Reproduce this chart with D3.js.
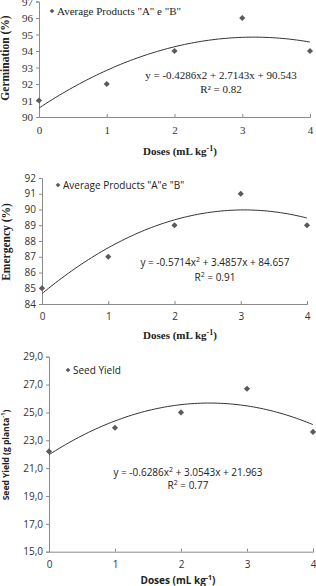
<!DOCTYPE html>
<html>
<head>
<meta charset="utf-8">
<script src="https://cdn.jsdelivr.net/npm/d3@7"></script>
<style>
  body { margin: 0; background: #fff; }
  svg { display: block; }
</style>
</head>
<body>
<svg id="chart" width="316" height="586"></svg>
<script>
// doses on the x axis, shared by all three panels
const doses = [0, 1, 2, 3, 4];

// germination panel
const germValues = [91, 92, 94, 96, 94];
const germTicks = [90, 91, 92, 93, 94, 95, 96, 97];
const germCoef = [-0.4286, 2.7143, 90.543];

// emergency panel
const emergValues = [85, 87, 89, 91, 89];
const emergTicks = [84, 85, 86, 87, 88, 89, 90, 91, 92];
const emergCoef = [-0.5714, 3.4857, 84.657];

// seed yield panel
const yieldValues = [22.2, 23.9, 25.0, 26.7, 23.6];
const yieldTicks = [15, 17, 19, 21, 23, 25, 27, 29];
const yieldCoef = [-0.6286, 3.0543, 21.963];

const SERIF = "'Liberation Serif', 'Times New Roman', serif";
const SANS = "'Open Sans', 'Liberation Sans', sans-serif";

const svg = d3.select("#chart");

// one panel = axes + diamonds + quadratic trend + equation text
function drawPanel(p) {
  const x = d3.scaleLinear().domain([0, 4]).range([p.x0, p.x1]);
  const y = d3.scaleLinear().domain(p.domain).range([p.yBottom, p.yTop]);
  const g = svg.append("g");

  // y axis
  const yAxis = g.append("g")
    .attr("transform", `translate(${p.x0},0)`)
    .call(d3.axisLeft(y).tickValues(p.ticks).tickSize(3).tickPadding(3).tickFormat(p.fmt));
  yAxis.select(".domain").attr("stroke", "#8a8a8a");
  yAxis.selectAll(".tick line").attr("stroke", "#8a8a8a");
  yAxis.selectAll("text")
    .attr("fill", "#333")
    .style("font-family", p.tickFont)
    .style("font-size", p.tickSize + "px");

  // x axis, ticks pointing up
  const xAxis = g.append("g")
    .attr("transform", `translate(0,${p.yBottom})`)
    .call(d3.axisBottom(x).tickValues(doses).tickSize(-3).tickPadding(9).tickFormat(d3.format("d")));
  xAxis.select(".domain").attr("stroke", "#8a8a8a");
  xAxis.selectAll(".tick line").attr("stroke", "#8a8a8a");
  xAxis.selectAll("text")
    .attr("fill", "#333")
    .style("font-family", p.tickFont)
    .style("font-size", p.tickSize + "px");

  // trend line from the printed regression
  const steps = d3.range(0, 4.001, 0.05);
  const c = p.coef;
  const line = d3.line()
    .x(d => x(d))
    .y(d => y(c[0] * d * d + c[1] * d + c[2]))
    .curve(d3.curveBasis);
  g.append("path")
    .attr("d", line(steps))
    .attr("fill", "none")
    .attr("stroke", "#333")
    .attr("stroke-width", 1);

  // data points
  g.selectAll("path.pt")
    .data(doses)
    .join("path")
    .attr("class", "pt")
    .attr("d", d3.symbol(d3.symbolDiamond2, 24))
    .attr("transform", (d, i) => `translate(${x(d)},${y(p.values[i])})`)
    .attr("fill", "#5a5a5a");

  // legend
  g.append("path")
    .attr("d", d3.symbol(d3.symbolDiamond2, 14))
    .attr("transform", `translate(${p.legX},${p.legY})`)
    .attr("fill", "#5a5a5a");
  g.append("text")
    .attr("x", p.legX + 5)
    .attr("y", p.legY + 4)
    .attr("fill", "#222")
    .style("font-family", p.legFont)
    .style("font-size", p.legSize + "px")
    .text(p.legend);

  // equation
  const eq = g.append("text")
    .attr("x", p.eqX)
    .attr("y", p.eqY)
    .attr("text-anchor", "middle")
    .attr("fill", "#222")
    .style("font-family", p.legFont)
    .style("font-size", p.legSize + "px");
  p.eqParts.forEach(part => {
    eq.append("tspan")
      .attr("dy", part.sup ? -4 : (part.after ? 4 : 0))
      .style("font-size", part.sup ? (p.legSize - 3) + "px" : null)
      .text(part.t);
  });
  const r2 = g.append("text")
    .attr("x", p.eqX)
    .attr("y", p.eqY + p.r2Gap)
    .attr("text-anchor", "middle")
    .attr("fill", "#222")
    .style("font-family", p.legFont)
    .style("font-size", p.legSize + "px");
  if (p.r2Sup) {
    r2.append("tspan").text("R");
    r2.append("tspan").attr("dy", -4).style("font-size", (p.legSize - 3) + "px").text("2");
    r2.append("tspan").attr("dy", 4).text(" = " + p.r2);
  } else {
    r2.text("R\u00b2 = " + p.r2);
  }

  // axis titles
  const yt = g.append("text")
    .attr("transform", `translate(${p.yTitleX},${p.yTitleY}) rotate(-90)`)
    .attr("text-anchor", "middle")
    .attr("fill", "#222")
    .style("font-family", p.titleFont)
    .style("font-weight", "bold")
    .style("font-size", p.yTitleSize + "px");
  p.yTitle.forEach(part => {
    yt.append("tspan")
      .attr("dy", part.sup ? -4 : (part.after ? 4 : 0))
      .style("font-size", part.sup ? (p.yTitleSize - 3) + "px" : null)
      .text(part.t);
  });

  const xt = g.append("text")
    .attr("x", p.xTitleX)
    .attr("y", p.xTitleY)
    .attr("text-anchor", "middle")
    .attr("fill", "#222")
    .style("font-family", p.xTitleFont)
    .style("font-weight", "bold")
    .style("font-size", p.titleSize + "px");
  xt.append("tspan").text("Doses (mL kg");
  xt.append("tspan").attr("dy", -4).style("font-size", (p.titleSize - 3) + "px").text("-1");
  xt.append("tspan").attr("dy", 4).text(")");
}

drawPanel({
  x0: 39, x1: 310, yBottom: 117, yTop: 1.5,
  domain: [90, 97], ticks: germTicks, fmt: d3.format("d"),
  values: germValues, coef: germCoef,
  tickFont: SERIF, tickSize: 11,
  legend: "Average Products \"A\"  e  \"B\"", legFont: SERIF, legSize: 11,
  legX: 52, legY: 11,
  eqParts: [{ t: "y = -0.4286x2 + 2.7143x + 90.543" }],
  eqX: 221, eqY: 79, r2Gap: 14, r2: "0.82", r2Sup: false,
  titleFont: SERIF, xTitleFont: SERIF, titleSize: 11, yTitleSize: 11.5,
  yTitle: [{ t: "Germination (%)" }], yTitleX: 9, yTitleY: 58,
  xTitleX: 180, xTitleY: 155
});

drawPanel({
  x0: 42, x1: 307, yBottom: 304, yTop: 178,
  domain: [84, 92], ticks: emergTicks, fmt: d3.format("d"),
  values: emergValues, coef: emergCoef,
  tickFont: SANS, tickSize: 10,
  legend: "Average Products \"A\"e \"B\"", legFont: SANS, legSize: 10,
  legX: 58, legY: 185,
  eqParts: [{ t: "y = -0.5714x" }, { t: "2", sup: true }, { t: " + 3.4857x + 84.657", after: true }],
  eqX: 215, eqY: 266, r2Gap: 15, r2: "0.91", r2Sup: true,
  titleFont: SERIF, xTitleFont: SERIF, titleSize: 11, yTitleSize: 11.5,
  yTitle: [{ t: "Emergency (%)" }], yTitleX: 10, yTitleY: 242,
  xTitleX: 180, xTitleY: 339
});

drawPanel({
  x0: 49, x1: 313, yBottom: 551.7, yTop: 356.7,
  domain: [15, 29], ticks: yieldTicks, fmt: d => d3.format(".1f")(d).replace(".", ","),
  values: yieldValues, coef: yieldCoef,
  tickFont: SANS, tickSize: 10,
  legend: "Seed Yield", legFont: SANS, legSize: 10,
  legX: 68, legY: 370,
  eqParts: [{ t: "y = -0.6286x" }, { t: "2", sup: true }, { t: " + 3.0543x + 21.963", after: true }],
  eqX: 188, eqY: 476, r2Gap: 13, r2: "0.77", r2Sup: true,
  titleFont: SANS, xTitleFont: SANS, titleSize: 10, yTitleSize: 8.5,
  yTitle: [{ t: "Seed Yield (g planta" }, { t: "-1", sup: true }, { t: ")", after: true }], yTitleX: 9, yTitleY: 455,
  xTitleX: 178, xTitleY: 584
});
</script>
</body>
</html>
